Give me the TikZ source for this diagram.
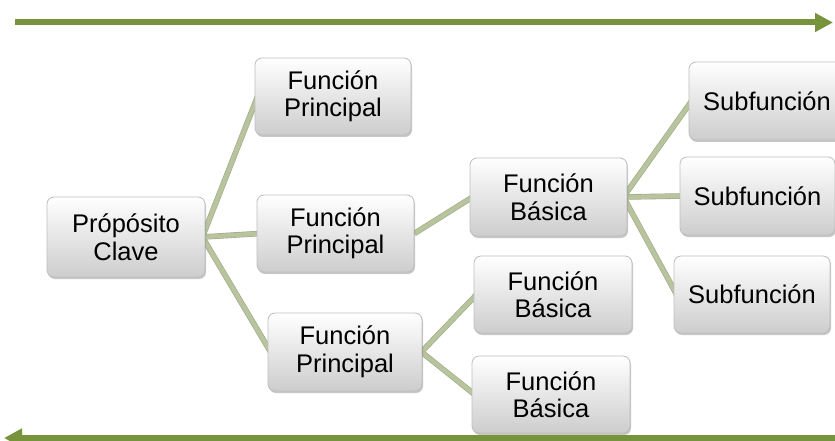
\documentclass[tikz,border=0pt]{standalone}
\usepackage{fontspec}
\setmainfont{Liberation Sans}
\usetikzlibrary{arrows.meta,shadows}
\pgfdeclarelayer{back}
\pgfsetlayers{back,main}
\definecolor{olive}{RGB}{119,147,60}
\definecolor{linkgreen}{RGB}{184,196,158}
\definecolor{linkedge}{RGB}{158,168,134}
\definecolor{boxedge}{RGB}{190,190,190}
\definecolor{boxbottom}{RGB}{205,205,205}
\tikzset{
  fbox/.style={draw=boxedge, line width=0.8pt, rounded corners=7pt,
    top color=white, bottom color=boxbottom, align=center, inner sep=0pt,
    font=\fontsize{25.5}{27.5}\selectfont,
    drop shadow={shadow xshift=1pt, shadow yshift=-2pt, fill=black, opacity=0.22}},
  link/.style={draw=linkgreen, line width=4.4pt, line cap=butt},
  linkback/.style={draw=linkedge, line width=5.6pt, line cap=butt},
  flow/.style={draw=olive, line width=6pt, -{Triangle[length=18pt,width=18pt]}}
}
\begin{document}
\begin{tikzpicture}[x=1pt,y=-1pt]
\useasboundingbox (0,0) rectangle (835,441);

% boxes
\node[fbox, minimum width=158pt, minimum height=80pt] (pc)  at (126,237)   {Própósito\\Clave};
\node[fbox, minimum width=156pt, minimum height=77pt] (fp1) at (333,96.5)  {Función\\Principal};
\node[fbox, minimum width=157pt, minimum height=77pt] (fp2) at (335.5,233.5) {Función\\Principal};
\node[fbox, minimum width=154pt, minimum height=78pt] (fp3) at (345,352)   {Función\\Principal};
\node[fbox, minimum width=157pt, minimum height=78pt] (fb1) at (548.5,197) {Función\\Básica};
\node[fbox, minimum width=158pt, minimum height=77pt] (fb2) at (553,294.5) {Función\\Básica};
\node[fbox, minimum width=158pt, minimum height=77pt] (fb3) at (551,394.5) {Función\\Básica};
\node[fbox, minimum width=156pt, minimum height=78pt] (s1)  at (767,101)   {Subfunción};
\node[fbox, minimum width=155pt, minimum height=78pt] (s2)  at (757.5,196) {Subfunción};
\node[fbox, minimum width=156pt, minimum height=77pt] (s3)  at (752,294.5) {Subfunción};

% fork points just inside the parents' right edges
\coordinate (kpc) at ([xshift=-3pt]pc.east);
\coordinate (kfb1) at ([xshift=-4pt]fb1.east);
\coordinate (kfp3) at ([xshift=-1pt]fp3.east);

% connectors, behind the boxes
\begin{pgfonlayer}{back}
  \fill[white] (0,0) rectangle (835,441);
  \foreach \a/\b in {kpc/fp1, kpc/fp2, kpc/fp3, fp2.east/fb1, kfp3/fb2, kfp3/fb3, kfb1/s1, kfb1/s2, kfb1/s3}{
    \path[linkback] (\a) -- ([xshift=3pt]\b.west);
  }
  \foreach \a/\b in {kpc/fp1, kpc/fp2, kpc/fp3, fp2.east/fb1, kfp3/fb2, kfp3/fb3, kfb1/s1, kfb1/s2, kfb1/s3}{
    \path[link] (\a) -- ([xshift=3pt]\b.west);
  }
\end{pgfonlayer}

% flow arrows
\coordinate (ta) at (15,22.5);
\coordinate (tb) at (833,22.5);
\coordinate (ba) at (840,438);
\coordinate (bb) at (4,438);
\draw[flow] (ta) -- (tb);
\draw[flow] (ba) -- (bb);
\end{tikzpicture}
\end{document}
